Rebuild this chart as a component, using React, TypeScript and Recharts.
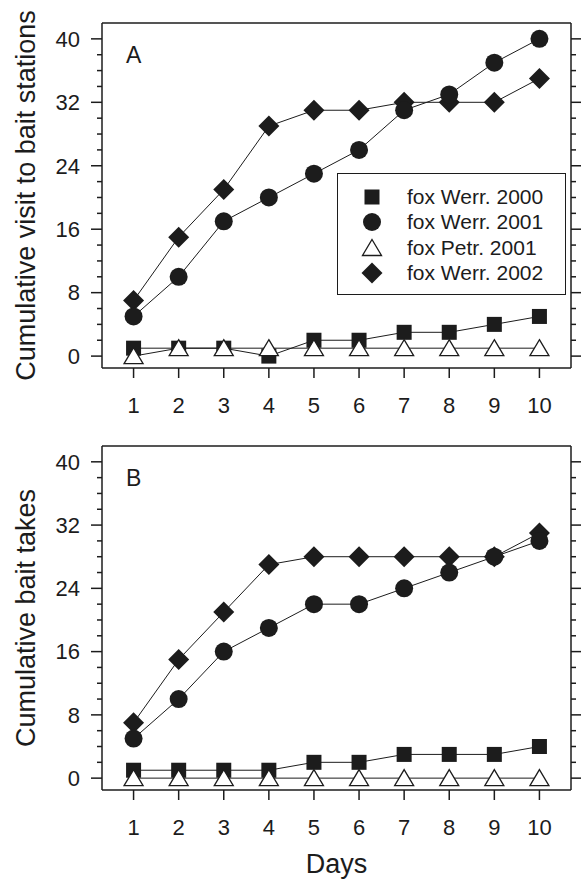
import { Legend, Line, LineChart, XAxis, YAxis } from 'recharts'

const days = [1, 2, 3, 4, 5, 6, 7, 8, 9, 10]
const valueTicks = [0, 2, 4, 6, 8, 10, 12, 14, 16, 18, 20, 22, 24, 26, 28, 30, 32, 34, 36, 38, 40]
const majorStep = 8

const seriesNames = ['fox Werr. 2000', 'fox Werr. 2001', 'fox Petr. 2001', 'fox Werr. 2002']

// panel A: cumulative visits
const visitWerr2000 = [1, 1, 1, 0, 2, 2, 3, 3, 4, 5]
const visitWerr2001 = [5, 10, 17, 20, 23, 26, 31, 33, 37, 40]
const visitPetr2001 = [0, 1, 1, 1, 1, 1, 1, 1, 1, 1]
const visitWerr2002 = [7, 15, 21, 29, 31, 31, 32, 32, 32, 35]

// panel B: cumulative bait takes
const takeWerr2000 = [1, 1, 1, 1, 2, 2, 3, 3, 3, 4]
const takeWerr2001 = [5, 10, 16, 19, 22, 22, 24, 26, 28, 30]
const takePetr2001 = [0, 0, 0, 0, 0, 0, 0, 0, 0, 0]
const takeWerr2002 = [7, 15, 21, 27, 28, 28, 28, 28, 28, 31]

const INK = '#1c1c1c'
const FONT = '"Liberation Sans", Arial, Helvetica, sans-serif'

type Kind = 'square' | 'circle' | 'triangle' | 'diamond'
const kinds: Kind[] = ['square', 'circle', 'triangle', 'diamond']

function Marker({ kind, cx, cy }: { kind: Kind; cx: number; cy: number }) {
  if (kind === 'square') return <rect x={cx - 7.5} y={cy - 7.5} width={15} height={15} fill={INK} />
  if (kind === 'circle') return <circle cx={cx} cy={cy} r={9} fill={INK} />
  if (kind === 'triangle')
    return (
      <path
        d={`M${cx},${cy - 8.5} L${cx + 9.5},${cy + 7.5} L${cx - 9.5},${cy + 7.5} Z`}
        fill="#fff"
        stroke={INK}
        strokeWidth={1.3}
      />
    )
  return <path d={`M${cx},${cy - 10.5} L${cx + 10.5},${cy} L${cx},${cy + 10.5} L${cx - 10.5},${cy} Z`} fill={INK} />
}

const makeRows = (a: number[], b: number[], c: number[], d: number[]) =>
  days.map((day, i) => ({ day, werr2000: a[i], werr2001: b[i], petr2001: c[i], werr2002: d[i] }))

const visitRows = makeRows(visitWerr2000, visitWerr2001, visitPetr2001, visitWerr2002)
const takeRows = makeRows(takeWerr2000, takeWerr2001, takePetr2001, takeWerr2002)

// drawing order: squares, diamonds, circles, triangles on top
const drawOrder: { key: string; kind: Kind }[] = [
  { key: 'werr2000', kind: 'square' },
  { key: 'werr2002', kind: 'diamond' },
  { key: 'werr2001', kind: 'circle' },
  { key: 'petr2001', kind: 'triangle' },
]

const LeftTick = (props: any) => {
  const { x, y, payload } = props
  const edge = x + 22
  const major = payload.value % majorStep === 0
  return (
    <g>
      <line x1={edge} x2={edge - (major ? 11 : 5)} y1={y} y2={y} stroke={INK} strokeWidth={1.5} />
      {major && (
        <text x={x} y={y} dy="0.355em" textAnchor="end" fontSize={22} fontFamily={FONT} fill={INK}>
          {payload.value}
        </text>
      )}
    </g>
  )
}

const RightTick = (props: any) => {
  const { x, y, payload } = props
  const edge = x - 10
  const major = payload.value % majorStep === 0
  return <line x1={edge} x2={edge + (major ? 10 : 5)} y1={y} y2={y} stroke={INK} strokeWidth={1.5} />
}

const LegendBox = () => (
  <div
    style={{
      boxSizing: 'border-box',
      width: 229,
      height: 122,
      border: `1px solid ${INK}`,
      background: '#fff',
      padding: '10px 0',
      fontFamily: FONT,
      fontSize: 21,
      color: INK,
    }}
  >
    {seriesNames.map((name, i) => (
      <div key={name} style={{ display: 'flex', alignItems: 'center', height: 25.5 }}>
        <svg width={24} height={24} style={{ marginLeft: 22 }}>
          <Marker kind={kinds[i]} cx={12} cy={12} />
        </svg>
        <span style={{ marginLeft: 23, whiteSpace: 'nowrap' }}>{name}</span>
      </div>
    ))}
  </div>
)

type PanelProps = {
  rows: typeof visitRows
  letter: string
  yTitle: string
  height: number
  top: number
  marginTop: number
  xAxisHeight: number
  showLegend?: boolean
  xTitle?: string
}

function Panel({ rows, letter, yTitle, height, top, marginTop, xAxisHeight, showLegend, xTitle }: PanelProps) {
  return (
    <div style={{ position: 'absolute', left: 0, top }}>
      <LineChart width={581} height={height} data={rows} margin={{ top: marginTop - 1, right: 0, bottom: 0, left: 0 }}>
        <XAxis
          dataKey="day"
          type="number"
          domain={[0.3, 10.7]}
          ticks={days}
          interval={0}
          allowDataOverflow
          height={xAxisHeight}
          tickSize={10}
          tickMargin={19}
          axisLine={{ stroke: INK, strokeWidth: 1.5 }}
          tickLine={{ stroke: INK, strokeWidth: 1.5 }}
          tick={{ fontSize: 22, fontFamily: FONT, fill: INK }}
          label={(p: any) =>
            xTitle ? (
              <text
                x={p.viewBox.x + p.viewBox.width / 2}
                y={p.viewBox.y + 83}
                textAnchor="middle"
                fontSize={27}
                fontFamily={FONT}
                fill={INK}
              >
                {xTitle}
              </text>
            ) : null
          }
        />
        <XAxis
          xAxisId="top"
          orientation="top"
          dataKey="day"
          type="number"
          domain={[0.3, 10.7]}
          ticks={days}
          allowDataOverflow
          height={1}
          tick={false}
          tickLine={false}
          axisLine={{ stroke: INK, strokeWidth: 1.5 }}
          label={(p: any) => (
            <text x={p.viewBox.x + 24} y={p.viewBox.y + 1 + 40} fontSize={23} fontFamily={FONT} fill={INK}>
              {letter}
            </text>
          )}
        />
        <YAxis
          yAxisId="left"
          type="number"
          domain={[-1.5, 42]}
          ticks={valueTicks}
          interval={0}
          allowDataOverflow
          width={102}
          tickSize={11}
          tickMargin={11}
          tickLine={false}
          axisLine={{ stroke: INK, strokeWidth: 1.5 }}
          tick={<LeftTick />}
          label={(p: any) => {
            const x = p.viewBox.x + 35
            const y = p.viewBox.y + p.viewBox.height / 2
            return (
              <text
                x={x}
                y={y}
                transform={`rotate(-90, ${x}, ${y})`}
                textAnchor="middle"
                fontSize={27}
                fontFamily={FONT}
                fill={INK}
              >
                {yTitle}
              </text>
            )
          }}
        />
        <YAxis
          yAxisId="right"
          orientation="right"
          type="number"
          domain={[-1.5, 42]}
          ticks={valueTicks}
          interval={0}
          allowDataOverflow
          width={10}
          tickSize={10}
          tickMargin={0}
          tickLine={false}
          axisLine={{ stroke: INK, strokeWidth: 1.5 }}
          tick={<RightTick />}
        />
        {drawOrder.map((s) => (
          <Line
            key={s.key}
            yAxisId="left"
            dataKey={s.key}
            type="linear"
            stroke={INK}
            strokeWidth={1}
            isAnimationActive={false}
            activeDot={false}
            dot={(p: any) => <Marker key={`${s.key}-${p.index}`} kind={s.kind} cx={p.cx} cy={p.cy} />}
          />
        ))}
        {showLegend && (
          <Legend
            layout="horizontal"
            verticalAlign="middle"
            align="center"
            content={() => <LegendBox />}
            wrapperStyle={{ left: 337, top: 173, width: 229, height: 122 }}
          />
        )}
      </LineChart>
    </div>
  )
}

export default function App() {
  return (
    <div style={{ position: 'absolute', left: 0, top: 0, width: 581, height: 884, background: '#fff' }}>
      <Panel
        rows={visitRows}
        letter="A"
        yTitle="Cumulative visit to bait stations"
        height={430}
        top={0}
        marginTop={23}
        xAxisHeight={62}
        showLegend
      />
      <Panel
        rows={takeRows}
        letter="B"
        yTitle="Cumulative bait takes"
        height={454}
        top={430}
        marginTop={16}
        xAxisHeight={94}
        xTitle="Days"
      />
    </div>
  )
}
